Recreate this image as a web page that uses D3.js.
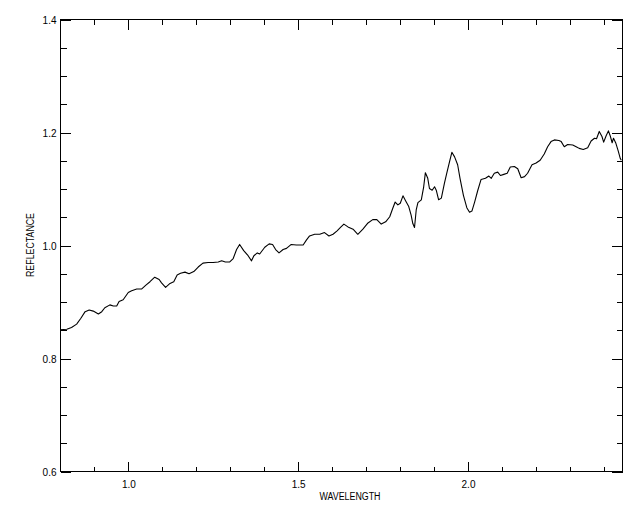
<!DOCTYPE html>
<html><head><meta charset="utf-8">
<script src="https://cdn.jsdelivr.net/npm/d3@7"></script>
<style>body{margin:0;background:#fff}svg{display:block}</style>
</head><body><svg id="c" width="640" height="512"></svg>
<script>
// ---- data ----
const wavelength = [0.800,0.820,0.834,0.849,0.861,0.874,0.886,0.898,0.913,0.923,0.932,0.947,0.957,0.967,0.974,0.986,1.001,1.011,1.026,1.040,1.053,1.065,1.079,1.092,1.099,1.111,1.124,1.135,1.145,1.155,1.168,1.180,1.194,1.207,1.221,1.236,1.251,1.266,1.276,1.287,1.300,1.310,1.320,1.329,1.341,1.354,1.364,1.371,1.381,1.388,
1.403,1.416,1.426,1.435,1.445,1.457,1.467,1.481,1.496,1.516,1.526,1.535,1.550,1.565,1.579,1.592,1.604,1.616,1.626,1.636,1.648,1.663,1.677,1.692,1.707,1.721,1.733,1.746,1.759,1.771,1.780,1.787,1.795,1.802,1.810,1.818,1.827,1.834,1.839,1.844,1.849,1.854,1.864,1.871,1.876,1.883,1.888,1.896,1.903,1.908,1.915,1.923,1.932,1.939,1.947,1.954,1.962,1.971,1.978,1.988,1.998,2.006,2.013,2.021,2.030,2.040,2.053,2.063,2.070,2.079,2.089,2.097,2.107,2.117,2.126,2.138,2.148,2.158,2.168,2.177,2.190,2.202,2.214,2.226,2.236,2.246,2.256,2.269,2.276,2.285,2.295,2.310,2.320,2.329,2.341,2.354,2.364,2.374,2.380,2.388,2.396,2.401,2.408,2.415,2.421,2.426,2.430,2.437,2.444,2.450,2.453];
const reflectance = [0.850,0.851,0.854,0.860,0.870,0.882,0.885,0.883,0.878,0.882,0.889,0.894,0.892,0.892,0.900,0.903,0.916,0.919,0.922,0.922,0.929,0.935,0.943,0.939,0.933,0.925,0.932,0.935,0.947,0.950,0.952,0.949,0.953,0.961,0.968,0.969,0.969,0.970,0.972,0.970,0.970,0.976,0.992,1.001,0.990,0.981,0.972,0.981,0.986,0.984,
0.996,1.002,1.001,0.992,0.986,0.992,0.994,1.001,1.000,1.000,1.009,1.016,1.019,1.019,1.022,1.016,1.019,1.025,1.031,1.037,1.032,1.028,1.019,1.028,1.039,1.045,1.045,1.037,1.041,1.050,1.065,1.076,1.071,1.074,1.087,1.078,1.068,1.053,1.038,1.031,1.062,1.075,1.080,1.103,1.128,1.118,1.100,1.097,1.103,1.097,1.080,1.083,1.109,1.127,1.147,1.164,1.156,1.142,1.118,1.088,1.066,1.058,1.060,1.076,1.096,1.116,1.118,1.122,1.118,1.127,1.129,1.123,1.125,1.127,1.138,1.139,1.135,1.119,1.121,1.127,1.142,1.145,1.150,1.161,1.174,1.183,1.186,1.185,1.183,1.174,1.178,1.177,1.174,1.171,1.169,1.172,1.184,1.189,1.188,1.201,1.192,1.182,1.193,1.202,1.192,1.181,1.189,1.180,1.166,1.153,1.150];
const xMajorTicks = [1.0, 1.5, 2.0];
const xTickLabels = ["1.0", "1.5", "2.0"];
const yMajorTicks = [0.6, 0.8, 1.0, 1.2, 1.4];
const yTickLabels = ["0.6", "0.8", "1.0", "1.2", "1.4"];
const xDomain = [0.8, 2.455];
const yDomain = [0.6, 1.4];
const xTitle = "WAVELENGTH";
const yTitle = "REFLECTANCE";

// ---- layout ----
const L = 60, R = 622, T = 19, B = 471;
const svg = d3.select("#c");
const x = d3.scaleLinear().domain(xDomain).range([L, R]);
const y = d3.scaleLinear().domain(yDomain).range([B, T]);

const xMinor = d3.range(9, 25).map(v => v / 10).filter(v => !xMajorTicks.some(m => Math.abs(m - v) < 1e-6));
const yMinor = d3.range(12, 29).map(v => v / 20).filter(v => !yMajorTicks.some(m => Math.abs(m - v) < 1e-6));

function styleAxis(g) {
  g.select(".domain").remove();
  g.selectAll("line").attr("stroke", "#000").attr("stroke-width", 1).attr("shape-rendering", "crispEdges");
  g.selectAll("text").attr("fill", "#000").attr("font-family", "Liberation Sans, Arial, sans-serif").attr("font-size", 10);
}

// frame
svg.append("rect").attr("x", L + 0.5).attr("y", T + 0.5).attr("width", R - L).attr("height", B - T)
  .attr("fill", "none").attr("stroke", "#000").attr("stroke-width", 1).attr("shape-rendering", "crispEdges");

// bottom
const gb = svg.append("g").attr("transform", `translate(0.5,${B + 0.5})`)
  .call(d3.axisBottom(x).tickValues(xMajorTicks).tickSize(-10).tickFormat((d, i) => xTickLabels[i]));
styleAxis(gb);
gb.selectAll("text").attr("y", 16).attr("dy", 0);
const gbm = svg.append("g").attr("transform", `translate(0.5,${B + 0.5})`)
  .call(d3.axisBottom(x).tickValues(xMinor).tickSize(-5).tickFormat(""));
styleAxis(gbm);
// top
const gt = svg.append("g").attr("transform", `translate(0.5,${T + 0.5})`)
  .call(d3.axisTop(x).tickValues(xMajorTicks).tickSize(-10).tickFormat(""));
styleAxis(gt);
const gtm = svg.append("g").attr("transform", `translate(0.5,${T + 0.5})`)
  .call(d3.axisTop(x).tickValues(xMinor).tickSize(-5).tickFormat(""));
styleAxis(gtm);
// left
const gl = svg.append("g").attr("transform", `translate(${L + 0.5},0.5)`)
  .call(d3.axisLeft(y).tickValues(yMajorTicks).tickSize(-10).tickFormat((d, i) => yTickLabels[i]));
styleAxis(gl);
gl.selectAll("text").attr("x", -4).attr("dy", 4);
const glm = svg.append("g").attr("transform", `translate(${L + 0.5},0.5)`)
  .call(d3.axisLeft(y).tickValues(yMinor).tickSize(-6).tickFormat(""));
styleAxis(glm);
// right
const gr = svg.append("g").attr("transform", `translate(${R + 0.5},0.5)`)
  .call(d3.axisRight(y).tickValues(yMajorTicks).tickSize(-11).tickFormat(""));
styleAxis(gr);
const grm = svg.append("g").attr("transform", `translate(${R + 0.5},0.5)`)
  .call(d3.axisRight(y).tickValues(yMinor).tickSize(-6).tickFormat(""));
styleAxis(grm);

// titles
svg.append("text").attr("x", (L + R) / 2 + 9).attr("y", 500).attr("text-anchor", "middle")
  .attr("font-family", "Liberation Sans, Arial, sans-serif").attr("font-size", 10)
  .attr("textLength", 61).attr("lengthAdjust", "spacingAndGlyphs").text(xTitle);
svg.append("text").attr("transform", `translate(33.5,${(T + B) / 2}) rotate(-90)`).attr("text-anchor", "middle")
  .attr("font-family", "Liberation Sans, Arial, sans-serif").attr("font-size", 10)
  .attr("textLength", 64).attr("lengthAdjust", "spacingAndGlyphs").text(yTitle);

// spectrum
const line = d3.line().x((d, i) => x(wavelength[i])).y(d => y(d));
svg.append("path").datum(reflectance).attr("d", line)
  .attr("fill", "none").attr("stroke", "#000").attr("stroke-width", 1.1).attr("stroke-linejoin", "round");
</script>
</body></html>
